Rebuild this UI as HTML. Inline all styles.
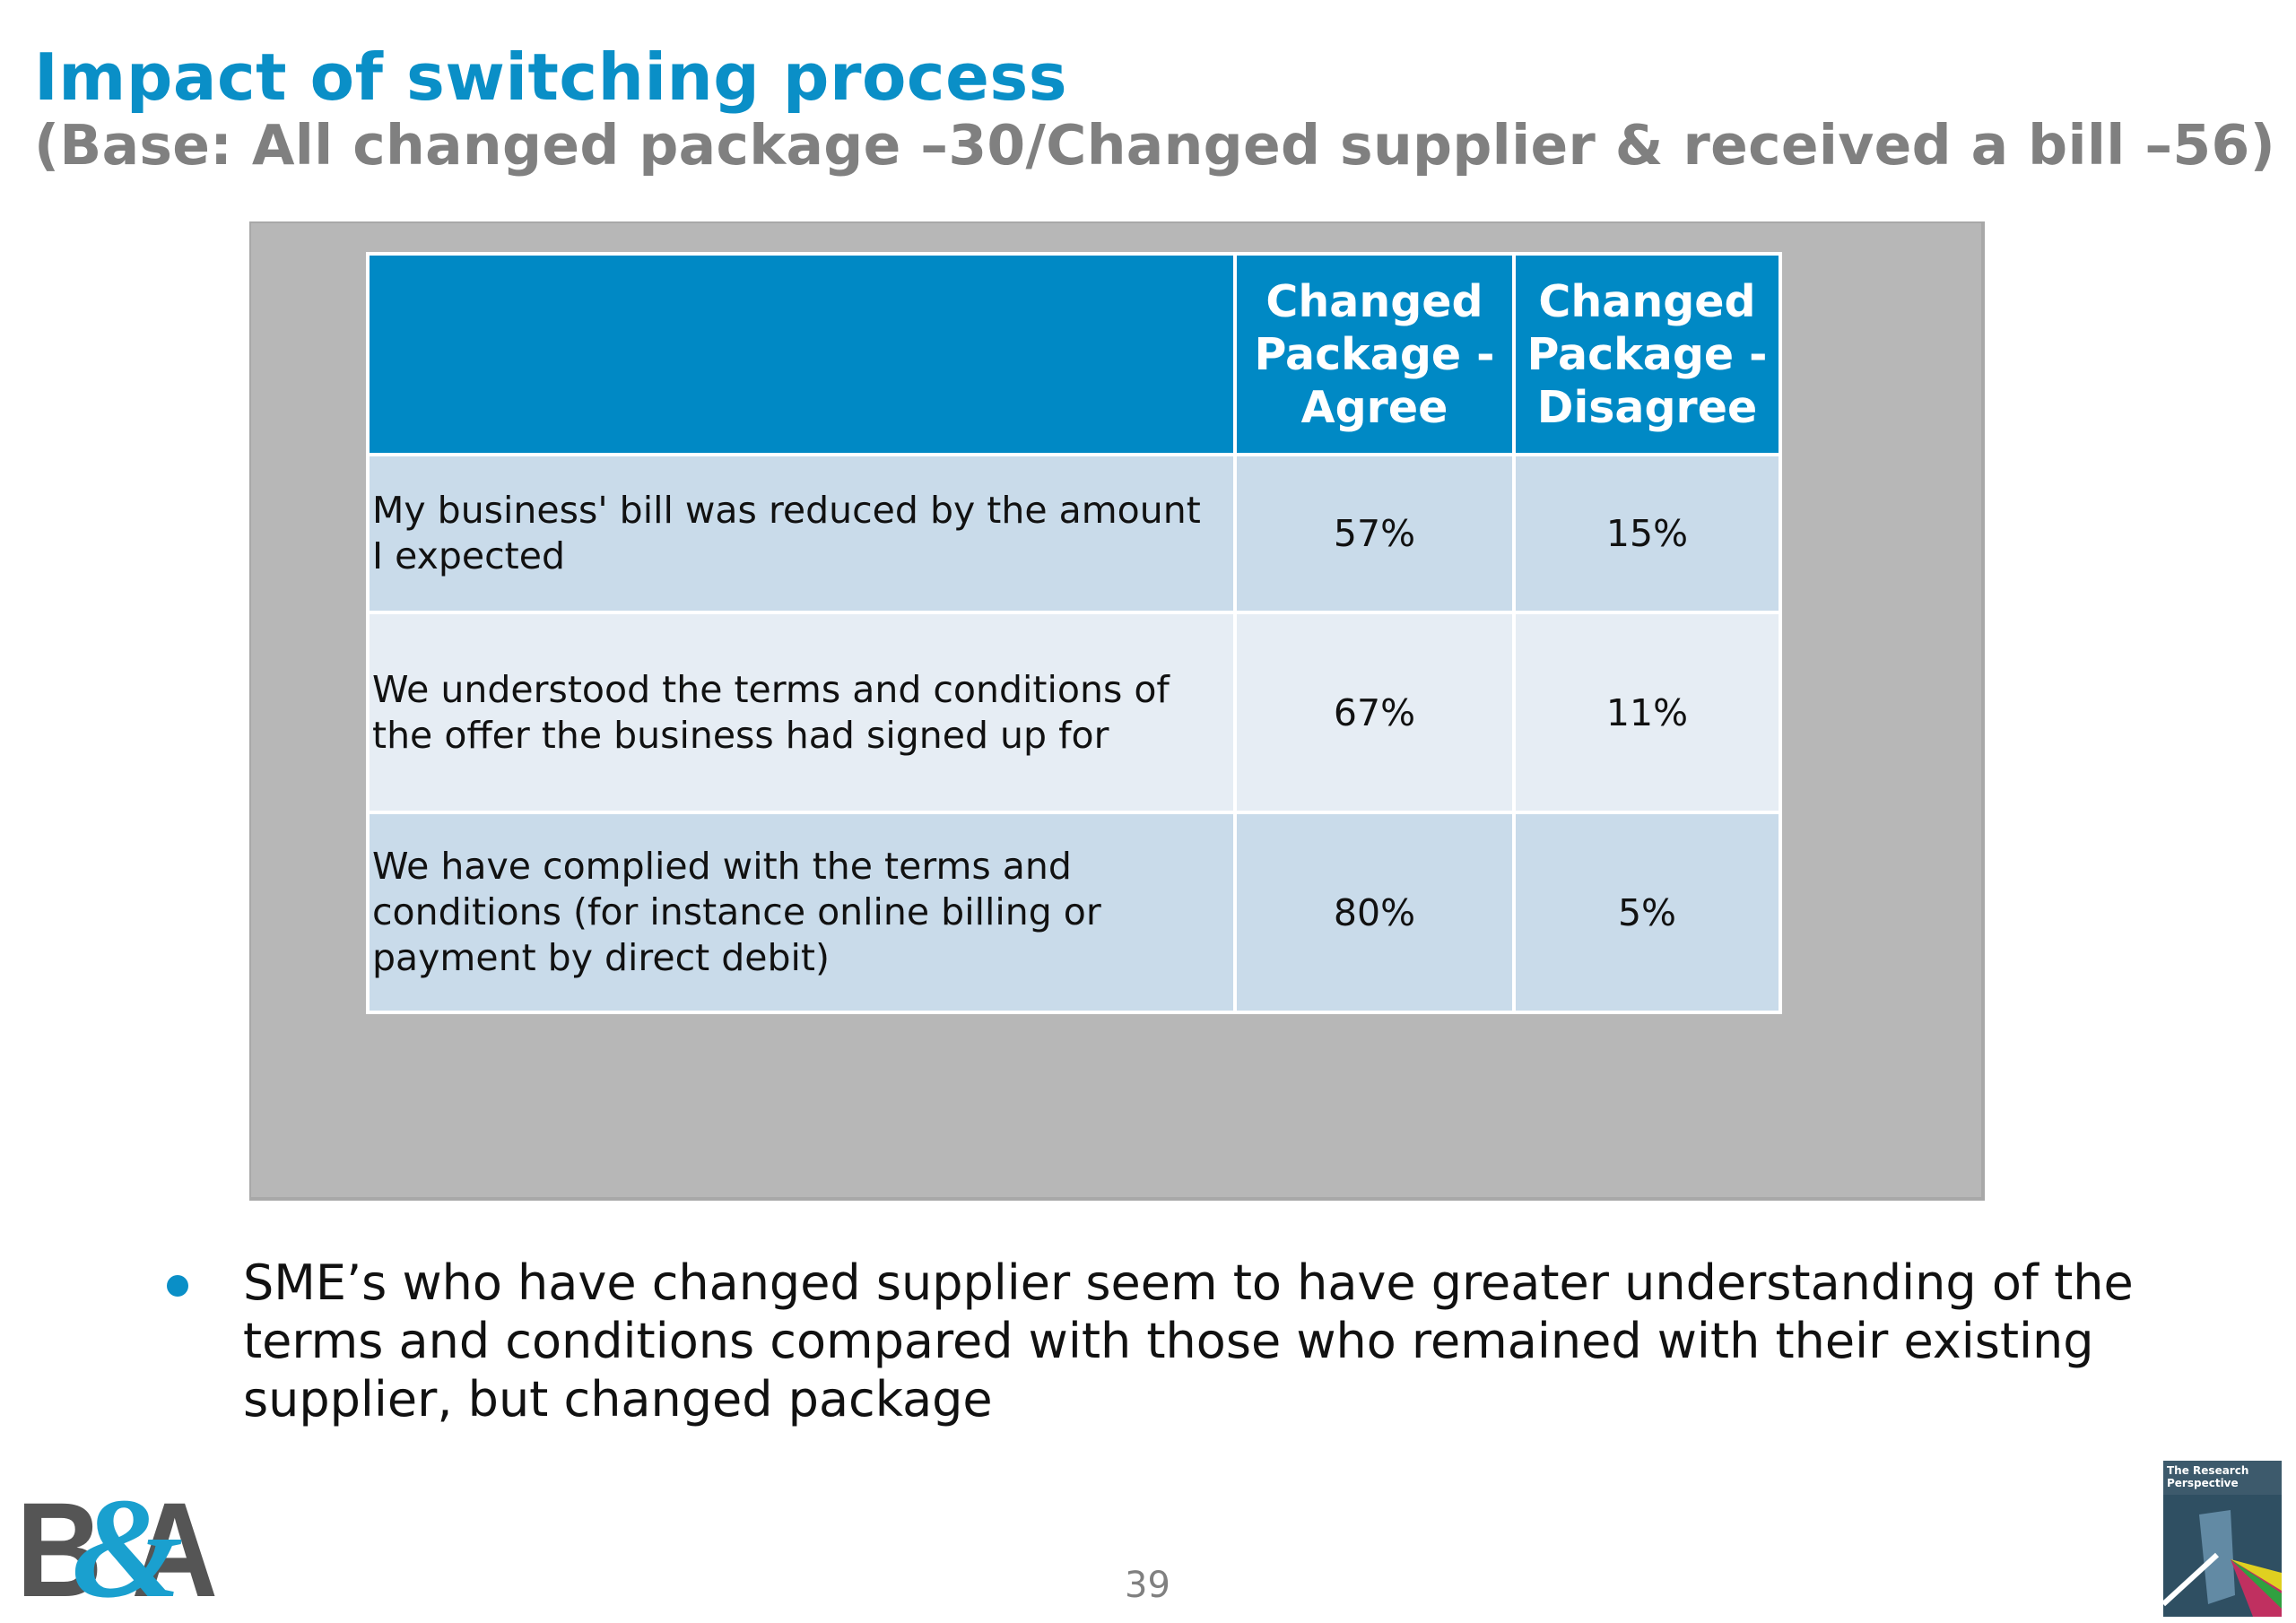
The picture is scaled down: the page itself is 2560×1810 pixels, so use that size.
<!DOCTYPE html>
<html><head><meta charset="utf-8"><style>
body{margin:0;width:2560px;height:1810px;background:#fff;position:relative;overflow:hidden;font-family:"DejaVu Sans","Liberation Sans",sans-serif;}
.abs{position:absolute;}
#title{left:38px;top:44px;font-size:72px;font-weight:bold;color:#0a8fc7;white-space:nowrap;letter-spacing:0.5px}
#sub{left:38px;top:126px;font-size:61.5px;font-weight:bold;color:#808080;white-space:nowrap;letter-spacing:0.3px}
#panel{left:278px;top:247px;width:1929px;height:1086px;background:#b7b7b7;border:2px solid #a8a8a8;border-right-width:4px;border-bottom-width:4px}
table{position:absolute;left:408px;top:281px;border-collapse:collapse;}
td{border:4px solid #fff;padding:0;font-size:41px;color:#111}
.h{background:#0089c5;color:#fff;font-weight:bold;font-size:49px;text-align:center;line-height:59px}
.v{text-align:center}
.lbl{padding-left:3px;line-height:51px;white-space:nowrap}
.r1 td,.r3 td{background:#c9dbea}.r2 td{background:#e6edf4}
#bullet{left:186px;top:1422px;width:24px;height:24px;border-radius:50%;background:#0a8fc7}
#btxt{left:271px;top:1398px;font-size:54px;line-height:65px;color:#111;width:2280px;white-space:nowrap}
#pg{left:1254px;top:1745px;font-size:40px;color:#808080}
</style></head><body>
<div id="title" class="abs">Impact of switching process</div>
<div id="sub" class="abs">(Base: All changed package –30/Changed supplier &amp; received a bill –56)</div>
<div id="panel" class="abs"></div>
<table>
<tr style="height:224px"><td class="h" style="width:963px"></td><td class="h" style="width:307px">Changed<br>Package -<br>Agree</td><td class="h" style="width:293px">Changed<br>Package -<br>Disagree</td></tr>
<tr class="r1" style="height:176px"><td class="lbl">My business' bill was reduced by the amount<br>I expected</td><td class="v">57%</td><td class="v">15%</td></tr>
<tr class="r2" style="height:223px"><td class="lbl">We understood the terms and conditions of<br>the offer the business had signed up for</td><td class="v">67%</td><td class="v">11%</td></tr>
<tr class="r3" style="height:223px"><td class="lbl">We have complied with the terms and<br>conditions (for instance online billing or<br>payment by direct debit)</td><td class="v">80%</td><td class="v">5%</td></tr>
</table>
<div id="bullet" class="abs"></div>
<div id="btxt" class="abs">SME’s who have changed supplier seem to have greater understanding of the<br>terms and conditions compared with those who remained with their existing<br>supplier, but changed package</div>
<div id="pg" class="abs">39</div>
<svg class="abs" style="left:18px;top:1668px" width="230" height="118">
<text x="0" y="112" font-family="Liberation Sans" font-weight="bold" font-size="150" fill="#555" textLength="225" lengthAdjust="spacingAndGlyphs">B A</text>
<text x="62" y="112" font-family="Liberation Serif" font-style="italic" font-weight="bold" font-size="160" fill="#1aa0cf">&amp;</text>
</svg>
<svg class="abs" style="left:2412px;top:1629px" width="132" height="174">
<rect width="132" height="174" fill="#2f4f62"/>
<rect width="132" height="38" fill="#3d5a6c"/>
<text x="4" y="15" font-size="12" font-weight="bold" fill="#fff" font-family="DejaVu Sans">The Research</text>
<text x="4" y="29" font-size="12" font-weight="bold" fill="#fff" font-family="DejaVu Sans">Perspective</text>
<polygon points="40,60 75,55 80,150 50,160" fill="#6f98b5" opacity="0.8"/>
<line x1="0" y1="160" x2="60" y2="105" stroke="#fff" stroke-width="6"/>
<polygon points="75,110 132,140 132,174 100,174" fill="#c03060"/>
<polygon points="75,110 132,125 132,145" fill="#e0d020"/>
<polygon points="75,110 132,148 132,165" fill="#30a040"/>
</svg>
</body></html>
